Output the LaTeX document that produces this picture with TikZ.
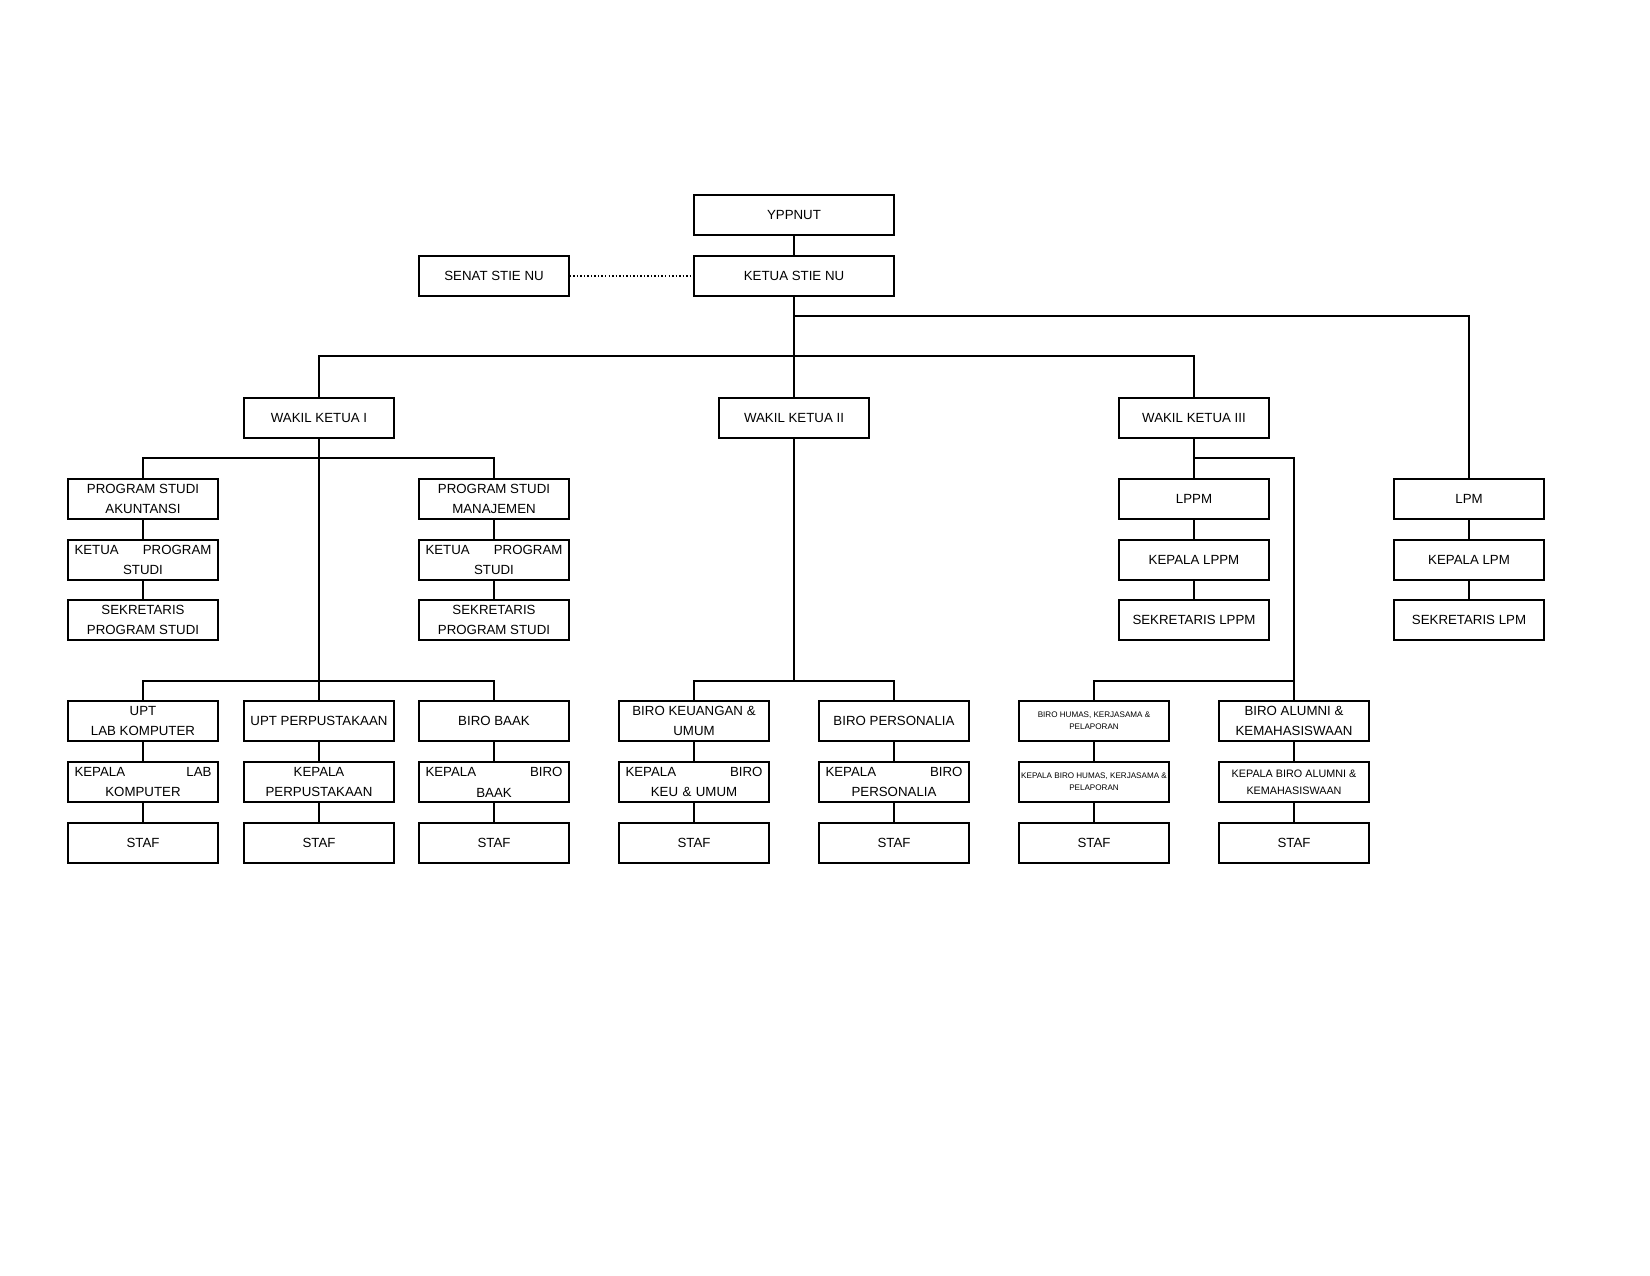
\documentclass[tikz,border=0pt]{standalone}
\usepackage{fontspec}
\setmainfont{Liberation Sans}
\usetikzlibrary{calc}

\begin{document}
\begin{tikzpicture}[x=0.4818pt,y=-0.4818pt,
        unit/.style={draw,line width=0.7pt,minimum width=72.27pt,minimum height=19.27pt,inner sep=1pt,align=center,font=\fontsize{6.4}{10}\selectfont},
        topunit/.style={unit,minimum width=96.4pt},
        jbox/.style={unit,text width=66pt},
        tinybox/.style={unit,font=\fontsize{3.9}{5.8}\selectfont},
        smallbox/.style={unit,font=\fontsize{5.2}{8}\selectfont},
        link/.style={line width=0.7pt}]
        \useasboundingbox (0,0) rectangle (1650,1275);
        % top
        \node[topunit] (yppnut) at (794,215) {YPPNUT};
        \node[topunit] (ketua) at (794,276) {KETUA STIE NU};
        \node[unit] (senat) at (494,276) {SENAT STIE NU};
        \node[unit] (wk1) at (319,418) {WAKIL KETUA I};
        \node[unit] (wk2) at (794,418) {WAKIL KETUA II};
        \node[unit] (wk3) at (1194,418) {WAKIL KETUA III};
        % program studi
        \node[unit] (ps1) at (143,499) {PROGRAM STUDI\\AKUNTANSI};
        \node[jbox] (kps1) at (143,560) {KETUA\hfill PROGRAM\\STUDI};
        \node[unit] (sps1) at (143,620) {SEKRETARIS\\PROGRAM STUDI};
        \node[unit] (ps2) at (494,499) {PROGRAM STUDI\\MANAJEMEN};
        \node[jbox] (kps2) at (494,560) {KETUA\hfill PROGRAM\\STUDI};
        \node[unit] (sps2) at (494,620) {SEKRETARIS\\PROGRAM STUDI};
        % lppm, lpm
        \node[unit] (lppm) at (1194,499) {LPPM};
        \node[unit] (klppm) at (1194,560) {KEPALA LPPM};
        \node[unit] (slppm) at (1194,620) {SEKRETARIS LPPM};
        \node[unit] (lpm) at (1469,499) {LPM};
        \node[unit] (klpm) at (1469,560) {KEPALA LPM};
        \node[unit] (slpm) at (1469,620) {SEKRETARIS LPM};
        % upt, biro
        \node[unit] (lab) at (143,721) {UPT\\LAB KOMPUTER};
        \node[jbox] (klab) at (143,782) {KEPALA\hfill LAB\\KOMPUTER};
        \node[unit] (slab) at (143,843) {STAF};
        \node[unit] (pus) at (319,721) {UPT PERPUSTAKAAN};
        \node[unit] (kpus) at (319,782) {KEPALA\\PERPUSTAKAAN};
        \node[unit] (spus) at (319,843) {STAF};
        \node[unit] (baak) at (494,721) {BIRO BAAK};
        \node[jbox] (kbaak) at (494,782) {KEPALA\hfill BIRO\\BAAK};
        \node[unit] (sbaak) at (494,843) {STAF};
        \node[unit] (keu) at (694,721) {BIRO KEUANGAN \&\\UMUM};
        \node[jbox] (kkeu) at (694,782) {KEPALA\hfill BIRO\\KEU \& UMUM};
        \node[unit] (skeu) at (694,843) {STAF};
        \node[unit] (pers) at (894,721) {BIRO PERSONALIA};
        \node[jbox] (kpers) at (894,782) {KEPALA\hfill BIRO\\PERSONALIA};
        \node[unit] (spers) at (894,843) {STAF};
        \node[tinybox] (humas) at (1094,721) {BIRO HUMAS, KERJASAMA \&\\PELAPORAN};
        \node[tinybox] (khumas) at (1094,782) {KEPALA BIRO HUMAS, KERJASAMA \&\\PELAPORAN};
        \node[unit] (shumas) at (1094,843) {STAF};
        \node[unit] (alumni) at (1294,721) {BIRO ALUMNI \&\\KEMAHASISWAAN};
        \node[smallbox] (kalumni) at (1294,782) {KEPALA BIRO ALUMNI \&\\KEMAHASISWAAN};
        \node[unit] (salumni) at (1294,843) {STAF};
        % junctions
        \coordinate (jlpm) at (794,316);
        \coordinate (jwk) at (794,356);
        \coordinate (jps) at (319,458);
        \coordinate (jupt) at (319,681);
        \coordinate (jbiro) at (794,681);
        \coordinate (jlppm) at (1194,458);
        \coordinate (jhumas) at (1294,681);
        % lines
        \draw[link] (yppnut)--(ketua);
        \draw[link,densely dotted,line width=0.5pt] (senat.east)--(ketua.west);
        \draw[link] (ketua.south)--(jwk);
        \draw[link] (jlpm)-|(lpm.north);
        \draw[link] (wk1.north)|-(jwk)-|(wk3.north);
        \draw[link] (jwk)--(wk2.north);
        \draw[link] (wk1.south)--(jupt);
        \draw[link] (ps1.north)|-(jps)-|(ps2.north);
        \draw[link] (lab.north)|-(jupt)-|(baak.north);
        \draw[link] (jupt)--(pus.north);
        \draw[link] (wk2.south)--(jbiro);
        \draw[link] (keu.north)|-(jbiro)-|(pers.north);
        \draw[link] (wk3.south)--(lppm.north);
        \draw[link] (jlppm)-|(alumni.north);
        \draw[link] (humas.north)|-(jhumas);
        \draw[link] (ps1)--(kps1)--(sps1);
        \draw[link] (ps2)--(kps2)--(sps2);
        \draw[link] (lppm)--(klppm)--(slppm);
        \draw[link] (lpm)--(klpm)--(slpm);
        \draw[link] (lab)--(klab)--(slab);
        \draw[link] (pus)--(kpus)--(spus);
        \draw[link] (baak)--(kbaak)--(sbaak);
        \draw[link] (keu)--(kkeu)--(skeu);
        \draw[link] (pers)--(kpers)--(spers);
        \draw[link] (humas)--(khumas)--(shumas);
        \draw[link] (alumni)--(kalumni)--(salumni);
    \end{tikzpicture}
\end{document}
